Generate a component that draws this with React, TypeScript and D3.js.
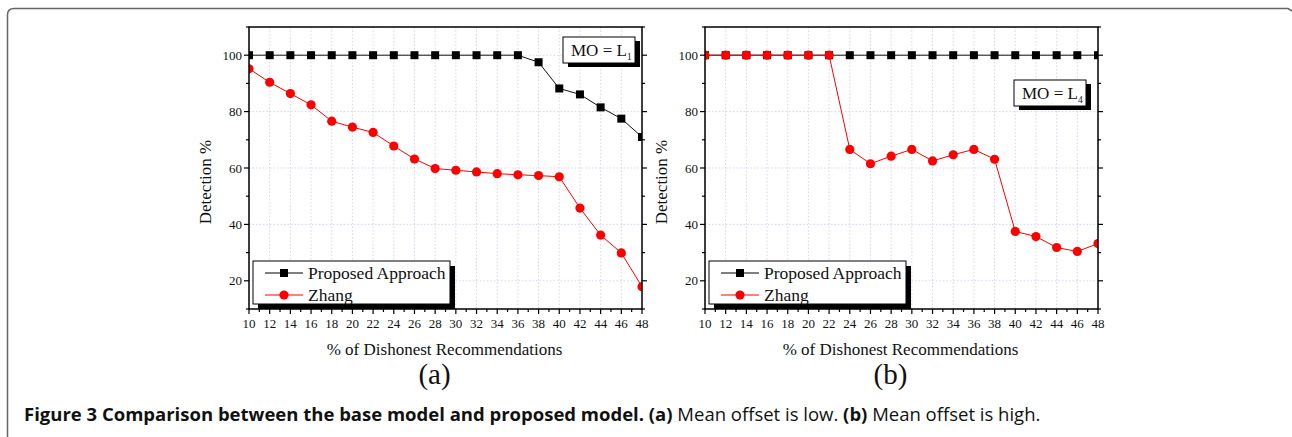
import React from "react";
import * as d3 from "d3";

// x values: % of dishonest recommendations
const xValues = [10, 12, 14, 16, 18, 20, 22, 24, 26, 28, 30, 32, 34, 36, 38, 40, 42, 44, 46, 48];

// (a) mean offset is low
const proposedA = [100, 100, 100, 100, 100, 100, 100, 100, 100, 100, 100, 100, 100, 100, 97.5, 88.2, 86.1, 81.5, 77.5, 71.0];
const zhangA = [95.2, 90.4, 86.4, 82.4, 76.6, 74.5, 72.6, 67.8, 63.2, 59.8, 59.2, 58.6, 58.0, 57.6, 57.3, 56.9, 45.8, 36.2, 29.9, 17.9];

// (b) mean offset is high
const proposedB = [100, 100, 100, 100, 100, 100, 100, 100, 100, 100, 100, 100, 100, 100, 100, 100, 100, 100, 100, 100];
const zhangB = [100, 100, 100, 100, 100, 100, 100, 66.6, 61.5, 64.2, 66.6, 62.5, 64.7, 66.6, 63.1, 37.5, 35.7, 31.8, 30.4, 33.2];

const xTicks = d3.range(10, 49, 2);
const xMinor = d3.range(11, 48, 2);
const yTicks = [20, 40, 60, 80, 100];
const yMinor = [10, 30, 50, 70, 90, 110];

const serif = "'Liberation Serif', 'Times New Roman', serif";
const W = 1292;
const H = 437;

type PanelProps = {
  id: string;
  left: number;
  proposed: number[];
  zhang: number[];
  letter: string;
  sub: string;
  moX: number;
  moY: number;
};

function Panel({ id, left, proposed, zhang, letter, sub, moX, moY }: PanelProps) {
  const top = 27;
  const bottom = 309;
  const width = 393;
  const x = d3.scaleLinear().domain([10, 48]).range([left, left + width]);
  const y = d3.scaleLinear().domain([10, 110]).range([bottom, top]);
  const line = d3
    .line<number>()
    .x((_, i) => x(xValues[i]))
    .y((d) => y(d));
  const right = left + width;
  const clip = `clip-${id}`;
  return (
    <g>
      <defs>
        <clipPath id={clip}>
          <rect x={left} y={top} width={width} height={bottom - top} />
        </clipPath>
      </defs>
      {/* grid */}
      {xTicks.map((t) => (
        <line key={"gx" + t} x1={x(t)} x2={x(t)} y1={top} y2={bottom} stroke="#c9c9f2" strokeWidth={0.8} strokeDasharray="1.5,2" />
      ))}
      {yTicks.map((t) => (
        <line key={"gy" + t} x1={left} x2={right} y1={y(t)} y2={y(t)} stroke="#c9c9f2" strokeWidth={0.8} strokeDasharray="1.5,2" />
      ))}
      {/* series */}
      <g clipPath={`url(#${clip})`}>
        <path d={line(proposed) || ""} fill="none" stroke="#111" strokeWidth={1} />
        {proposed.map((v, i) => (
          <rect key={"p" + i} x={x(xValues[i]) - 4} y={y(v) - 4} width={8} height={8} fill="#000" />
        ))}
        <path d={line(zhang) || ""} fill="none" stroke="#ff0000" strokeWidth={1} />
        {zhang.map((v, i) => (
          <circle key={"z" + i} cx={x(xValues[i])} cy={y(v)} r={4.6} fill="#ff0000" />
        ))}
      </g>
      {/* frame */}
      <rect x={left} y={top} width={width} height={bottom - top} fill="none" stroke="#000" strokeWidth={1.5} />
      {/* x ticks */}
      {xTicks.map((t) => (
        <g key={"xt" + t}>
          <line x1={x(t)} x2={x(t)} y1={bottom} y2={bottom + 5} stroke="#000" strokeWidth={1.2} />
          <text x={x(t)} y={bottom + 19} textAnchor="middle" fontFamily={serif} fontSize={13} fill="#111">
            {t}
          </text>
        </g>
      ))}
      {xMinor.map((t) => (
        <line key={"xm" + t} x1={x(t)} x2={x(t)} y1={bottom} y2={bottom + 3} stroke="#000" strokeWidth={1.2} />
      ))}
      {/* y ticks */}
      {yTicks.map((t) => (
        <g key={"yt" + t}>
          <line x1={left - 5} x2={left} y1={y(t)} y2={y(t)} stroke="#000" strokeWidth={1.2} />
          <line x1={right} x2={right + 5} y1={y(t)} y2={y(t)} stroke="#000" strokeWidth={1.2} />
          <text x={left - 7} y={y(t) + 4.5} textAnchor="end" fontFamily={serif} fontSize={13} fill="#111">
            {t}
          </text>
        </g>
      ))}
      {yMinor.map((t) => (
        <g key={"ym" + t}>
          <line x1={left - 3} x2={left} y1={y(t)} y2={y(t)} stroke="#000" strokeWidth={1.2} />
          <line x1={right} x2={right + 3} y1={y(t)} y2={y(t)} stroke="#000" strokeWidth={1.2} />
        </g>
      ))}
      {/* axis titles */}
      <text
        transform={`translate(${left - 38},${(top + bottom) / 2 + 14}) rotate(-90)`}
        textAnchor="middle"
        fontFamily={serif}
        fontSize={17}
        fill="#111"
      >
        Detection %
      </text>
      <text x={left + width / 2 - 1} y={355} textAnchor="middle" fontFamily={serif} fontSize={17} fill="#111">
        % of Dishonest Recommendations
      </text>
      <text x={left + width / 2 - 11} y={384} textAnchor="middle" fontFamily={serif} fontSize={29} fill="#111">
        ({letter})
      </text>
      {/* legend */}
      <rect x={left + 9} y={266} width={197} height={43} fill="#000" />
      <rect x={left + 4} y={261} width={197} height={43} fill="#fff" stroke="#000" strokeWidth={1} />
      <line x1={left + 16} x2={left + 54} y1={273} y2={273} stroke="#000" strokeWidth={1} />
      <rect x={left + 31} y={269} width={8} height={8} fill="#000" />
      <text x={left + 59} y={278.5} fontFamily={serif} fontSize={17.5} fill="#111">
        Proposed Approach
      </text>
      <line x1={left + 16} x2={left + 54} y1={295} y2={295} stroke="#ff0000" strokeWidth={1} />
      <circle cx={left + 35} cy={295} r={4.6} fill="#ff0000" />
      <text x={left + 59} y={300.5} fontFamily={serif} fontSize={17.5} fill="#111">
        Zhang
      </text>
      {/* MO box */}
      <rect x={moX + 5} y={moY + 4} width={72} height={26} fill="#000" />
      <rect x={moX} y={moY} width={72} height={26} fill="#fff" stroke="#000" strokeWidth={1} />
      <text x={moX + 8} y={moY + 19} fontFamily={serif} fontSize={17} fill="#111">
        MO = L
        <tspan fontSize={9.5} dy={4}>
          {sub}
        </tspan>
      </text>
    </g>
  );
}

export default function App() {
  return (
    <svg
      width={W}
      height={H}
      viewBox={`0 0 ${W} ${H}`}
      style={{ position: "absolute", left: 0, top: 0, background: "#fff" }}
    >
      <rect width={W} height={H} fill="#fff" />
      <path d={`M7.5,${H} L7.5,15 Q7.5,8.5 14,8.5 L1288,8.5 L1292,11`} fill="none" stroke="#666" strokeWidth={1.5} />
      <Panel id="a" left={249} proposed={proposedA} zhang={zhangA} letter="a" sub="1" moX={563} moY={37} />
      <Panel id="b" left={705} proposed={proposedB} zhang={zhangB} letter="b" sub="4" moX={1014} moY={80} />
      <text x={24} y={421} fontFamily="'Open Sans', 'Noto Sans', sans-serif" fontSize={18.5} fill="#111">
        <tspan fontWeight="bold">Figure 3 Comparison between the base model and proposed model. (a)</tspan>
        <tspan> Mean offset is low. </tspan>
        <tspan fontWeight="bold">(b)</tspan>
        <tspan> Mean offset is high.</tspan>
      </text>
    </svg>
  );
}
